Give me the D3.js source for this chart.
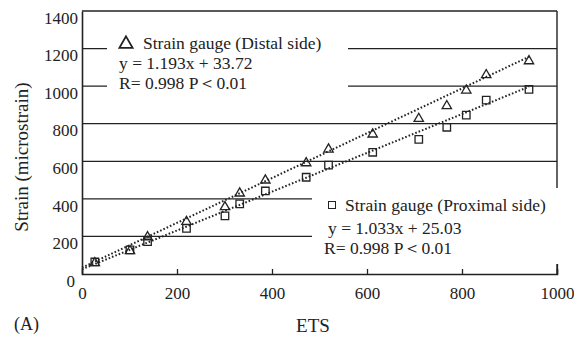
<!DOCTYPE html>
<html>
<head>
<meta charset="utf-8">
<script src="https://cdn.jsdelivr.net/npm/d3@7/dist/d3.min.js"></script>
<style>
  html, body { margin: 0; padding: 0; background: #fff; }
  svg { display: block; }
  text { font-family: "Liberation Serif", "DejaVu Serif", serif; fill: #222; }
</style>
</head>
<body>
<svg id="chart" width="574" height="338"></svg>
<script>
// ---- data ----
const etsValues      = [27, 101, 138, 220, 301, 332, 386, 472, 519, 612, 709, 768, 809, 851, 941];
const distalStrain   = [64, 128, 202, 284, 362, 435, 504, 596, 669, 749, 832, 900, 983, 1065, 1139];
const proximalStrain = [64, 128, 172, 243, 309, 373, 442, 515, 580, 648, 717, 781, 846, 926, 983];
const xTicks = [0, 200, 400, 600, 800, 1000];
const yTicks = [0, 200, 400, 600, 800, 1000, 1200, 1400];
const distalFit   = [1.193, 33.72];   // slope, intercept
const proximalFit = [1.033, 25.03];
const fitRange = [0, 941];
const distalLegend   = ["Strain gauge (Distal side)", "y = 1.193x + 33.72", "R= 0.998   P\uFF1C0.01"];
const proximalLegend = ["Strain gauge (Proximal side)", "y = 1.033x + 25.03", "R= 0.998  P\uFF1C0.01"];

// ---- layout ----
const svg = d3.select("#chart");
const x = d3.scaleLinear().domain([0, 1000]).range([82, 557]);
const y = d3.scaleLinear().domain([0, 1400]).range([274, 11]);
const ink = "#222";
const serif = "Liberation Serif, serif";

// gridlines (horizontal)
svg.append("g").selectAll("line").data(yTicks.filter(d => d > 0)).join("line")
  .attr("x1", x(0)).attr("x2", x(1000))
  .attr("y1", d => y(d)).attr("y2", d => y(d))
  .attr("stroke", ink).attr("stroke-width", 1.3);

// frame: right border
svg.append("line").attr("x1", x(1000)).attr("x2", x(1000))
  .attr("y1", y(1400)).attr("y2", y(0))
  .attr("stroke", ink).attr("stroke-width", 1.4);

// white legend boxes covering lines
svg.append("rect").attr("x", 107).attr("y", 26).attr("width", 241).attr("height", 72).attr("fill", "#fff");
svg.append("rect").attr("x", 312).attr("y", 188).attr("width", 262).attr("height", 76).attr("fill", "#fff");

// x axis with inward ticks
const xAxis = d3.axisBottom(x).tickValues(xTicks).tickSize(-5).tickPadding(13).tickFormat(d3.format("d"));
const gx = svg.append("g").attr("transform", `translate(0,${y(0)})`).call(xAxis);
gx.select(".domain").attr("stroke", ink).attr("stroke-width", 1.6);
gx.selectAll(".tick line").attr("stroke", ink).attr("stroke-width", 1.3);
gx.selectAll(".tick").filter(d => d === 1000).select("line").attr("y2", -10);
gx.selectAll(".tick").filter(d => d === 0).select("line").remove();
gx.selectAll(".tick text").attr("font-size", 17).attr("fill", ink).attr("font-family", serif);

// y axis
const yAxis = d3.axisLeft(y).tickValues(yTicks).tickSize(0).tickPadding(4).tickFormat(d3.format("d"));
const gy = svg.append("g").attr("transform", `translate(${x(0)},0)`).call(yAxis);
gy.select(".domain").attr("stroke", ink).attr("stroke-width", 1.6);
gy.selectAll(".tick text").attr("font-size", 17).attr("fill", ink).attr("dy", "0.72em")
  .attr("font-family", serif);
gy.selectAll(".tick").filter(d => d === 0).select("text").attr("dx", -3);

// trend lines (dotted)
function fitLine(fit) {
  return fitRange.map(v => [x(v), y(fit[0] * v + fit[1])]);
}
[distalFit, proximalFit].forEach(f => {
  svg.append("path").attr("d", d3.line()(fitLine(f)))
    .attr("stroke", ink).attr("stroke-width", 2).attr("fill", "none")
    .attr("stroke-dasharray", "1.6,2");
});

// markers
const tri = d3.symbol().type(d3.symbolTriangle).size(38);
const sq = d3.symbol().type(d3.symbolSquare).size(56);
svg.append("g").selectAll("path").data(etsValues.map((v, i) => [v, proximalStrain[i]])).join("path")
  .attr("d", sq).attr("transform", d => `translate(${x(d[0])},${y(d[1])})`)
  .attr("fill", "none").attr("stroke", ink).attr("stroke-width", 1.3);
svg.append("g").selectAll("path").data(etsValues.map((v, i) => [v, distalStrain[i]])).join("path")
  .attr("d", tri).attr("transform", d => `translate(${x(d[0])},${y(d[1]) + 1})`)
  .attr("fill", "none").attr("stroke", ink).attr("stroke-width", 1.3);

// legends
svg.append("path").attr("d", d3.symbol().type(d3.symbolTriangle).size(75)())
  .attr("transform", "translate(126,44)").attr("fill", "none").attr("stroke", ink).attr("stroke-width", 1.8);
const ld = svg.append("g").attr("font-size", 17.5).attr("font-family", serif);
ld.append("text").attr("x", 143).attr("y", 48.5).text(distalLegend[0]);
ld.append("text").attr("x", 119).attr("y", 69).text(distalLegend[1]);
ld.append("text").attr("x", 119).attr("y", 89).text(distalLegend[2]);

svg.append("rect").attr("x", 328.5).attr("y", 201.5).attr("width", 7).attr("height", 7)
  .attr("fill", "none").attr("stroke", ink).attr("stroke-width", 1);
const lp = svg.append("g").attr("font-size", 17.5).attr("font-family", serif);
lp.append("text").attr("x", 345).attr("y", 211).text(proximalLegend[0]);
lp.append("text").attr("x", 328).attr("y", 234).text(proximalLegend[1]);
lp.append("text").attr("x", 324).attr("y", 254).text(proximalLegend[2]);

// axis titles
svg.append("text").attr("transform", "translate(28,157) rotate(-90)")
  .attr("text-anchor", "middle").attr("font-size", 19).text("Strain (microstrain)");
svg.append("text").attr("x", 313).attr("y", 332).attr("text-anchor", "middle")
  .attr("font-size", 19).text("ETS");
svg.append("text").attr("x", 14).attr("y", 330).attr("font-size", 18).text("(A)");
</script>
</body>
</html>
